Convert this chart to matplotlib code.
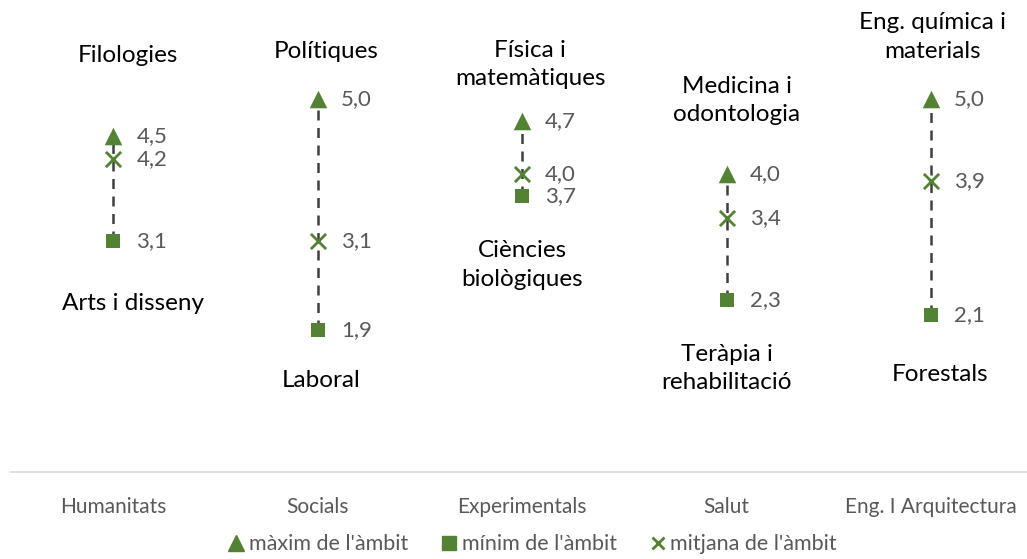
import matplotlib.pyplot as plt
from matplotlib.lines import Line2D

plt.rcParams['font.family'] = ['Lato', 'DejaVu Sans']

ambits = ['Humanitats', 'Socials', 'Experimentals', 'Salut', 'Eng. I Arquitectura']
maxim = [4.5, 5.0, 4.7, 4.0, 5.0]
minim = [3.1, 1.9, 3.7, 2.3, 2.1]
mitjana = [4.2, 3.1, 4.0, 3.4, 3.9]
titol_max = ['Filologies', 'Polítiques', 'Física i\nmatemàtiques',
             'Medicina i\nodontologia', 'Eng. química i\nmaterials']
titol_min = ['Arts i disseny', 'Laboral', 'Ciències\nbiològiques',
             'Teràpia i\nrehabilitació', 'Forestals']

GREEN = '#548235'
GREY = '#595959'

fig = plt.figure(figsize=(10.27, 5.59), dpi=100)
ax = fig.add_axes([0.011, 0.156, 0.995, 0.80])

x = list(range(len(ambits)))

for i in x:
    ax.plot([i, i], [minim[i], maxim[i]], color='#404040', lw=1.8,
            dashes=(4, 3), zorder=1)

ax.scatter(x, maxim, marker='^', s=160, color=GREEN, zorder=3, linewidths=0)
ax.scatter(x, minim, marker='s', s=115, color=GREEN, zorder=3, linewidths=0)
ax.scatter(x, mitjana, marker='x', s=120, color=GREEN, zorder=3, linewidths=2)

def fmt(v):
    return f'{v:.1f}'.replace('.', ',')

# value labels to the right of each marker
for serie in (maxim, minim, mitjana):
    for i, v in zip(x, serie):
        ax.annotate(fmt(v), (i, v), xytext=(23, 0), textcoords='offset pixels',
                    ha='left', va='center', fontsize=16, color=GREY)

# names of the top and bottom fields, offset in pixels from the markers
off_max = [(14, 81), (8, 48), (8, 57), (10, 73), (2, 62)]
off_min = [(20, -63), (3, -50), (0, -69), (0, -68), (9, -59)]
for i in x:
    ax.annotate(titol_max[i], (i, maxim[i]), xytext=off_max[i],
                textcoords='offset pixels', ha='center', va='center',
                fontsize=17.5, color='black', linespacing=1.45)
    ax.annotate(titol_min[i], (i, minim[i]), xytext=off_min[i],
                textcoords='offset pixels', ha='center', va='center',
                fontsize=17.5, color='black', linespacing=1.45)

ax.set_xlim(-0.5, 4.5)
ax.set_ylim(0, 6)
ax.set_yticks([])
ax.set_xticks(x)
ax.set_xticklabels(ambits, fontsize=15, color=GREY)
ax.tick_params(axis='x', length=0, pad=18)
for side in ('top', 'right', 'left'):
    ax.spines[side].set_visible(False)
ax.spines['bottom'].set_color('#d9d9d9')
ax.spines['bottom'].set_linewidth(1.2)

handles = [
    Line2D([], [], marker='^', color=GREEN, ls='none', markersize=11, label="màxim de l'àmbit"),
    Line2D([], [], marker='s', color=GREEN, ls='none', markersize=10, label="mínim de l'àmbit"),
    Line2D([], [], marker='x', color=GREEN, ls='none', markersize=9, mew=2, label="mitjana de l'àmbit"),
]
fig.legend(handles=handles, loc='center', bbox_to_anchor=(0.517, 0.026), ncol=3,
           frameon=False, fontsize=15.5, labelcolor=GREY, handletextpad=0.1,
           columnspacing=1.4, handlelength=1.0)

fig.savefig('out.png', dpi=100)
